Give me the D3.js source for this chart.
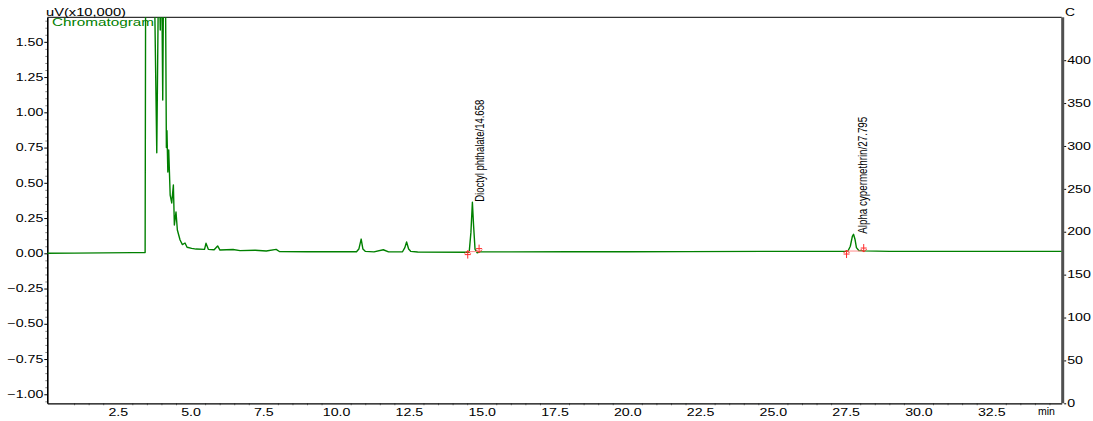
<!DOCTYPE html>
<html>
<head>
<meta charset="utf-8">
<script src="https://cdn.jsdelivr.net/npm/d3@7"></script>
<style>
  body { margin: 0; background: #fff; }
  svg { display: block; }
  text { font-family: "Liberation Sans", Arial, sans-serif; }
</style>
</head>
<body>
<div id="chart"></div>
<script>
// retention time (min) and detector signal (uV x10,000)
const rtMin = [0.08, 1.0, 2.0, 3.0, 3.44, 3.46, 3.74, 3.84, 3.91, 3.96, 4.0, 4.045, 4.08, 4.13,
  4.17, 4.19, 4.22, 4.25, 4.30, 4.354, 4.41, 4.444, 4.50, 4.547, 4.64, 4.72, 4.81, 4.88, 5.04,
  5.19, 5.48, 5.53, 5.61, 5.81, 5.93, 6.01, 6.46, 6.7, 7.22, 7.6, 7.94, 8.05, 9.0, 10.7, 10.78,
  10.86, 10.92, 11.0, 11.3, 11.62, 11.8, 12.28, 12.36, 12.42, 12.49, 12.56, 12.8, 14.52, 14.57,
  14.63, 14.68, 14.72, 14.77, 14.84, 14.95, 16.0, 18.0, 20.0, 22.0, 25.0, 27.53, 27.58, 27.66,
  27.73, 27.77, 27.82, 27.87, 27.95, 28.12, 29.0, 31.0, 34.92];
const signal = [0.000, 0.001, 0.003, 0.005, 0.005, 2.2, 2.2, 0.713, 2.2, 1.584, 2.2, 1.087, 2.2, 2.2,
  0.75, 0.87, 0.576, 0.733, 0.413, 0.357, 0.484, 0.201, 0.293, 0.165, 0.094, 0.062, 0.073, 0.043, 0.035,
  0.030, 0.028, 0.071, 0.028, 0.025, 0.052, 0.023, 0.027, 0.019, 0.022, 0.016, 0.028, 0.013, 0.011, 0.011, 0.03,
  0.101, 0.03, 0.014, 0.010, 0.025, 0.010, 0.011, 0.04, 0.08, 0.03, 0.014, 0.009, 0.007, 0.008,
  0.15, 0.362, 0.2, 0.03, 0.004, 0.010, 0.010, 0.011, 0.011, 0.012, 0.014, 0.015, 0.016, 0.05,
  0.12, 0.135, 0.1, 0.04, 0.02, 0.017, 0.014, 0.014, 0.014];

// integrated peaks
const peakNames = ["Dioctyl phthalate/14.658", "Alpha cypermethrin/27.795"];
const peakTime = [14.658, 27.795];
const peakApex = [0.362, 0.135];
const peakStart = [14.52, 27.53];
const peakEnd = [14.91, 28.12];
const peakBase = [0.012, 0.016];

const signalTicks = [-1.00, -0.75, -0.50, -0.25, 0.00, 0.25, 0.50, 0.75, 1.00, 1.25, 1.50];
const timeTicks = [2.5, 5.0, 7.5, 10.0, 12.5, 15.0, 17.5, 20.0, 22.5, 25.0, 27.5, 30.0, 32.5];
const tempTicks = [0, 50, 100, 150, 200, 250, 300, 350, 400];

const width = 1093, height = 421;
const pLeft = 47.3, pRight = 1061.7, pTop = 17.3, pBottom = 403.3;
const green = "#008000", red = "#ff2a2a";
const sx = 1.42; // labels look stretched sideways

const svg = d3.select("#chart").append("svg")
  .attr("width", width)
  .attr("height", height);

const x = d3.scaleLinear().domain([0.08, 34.92]).range([pLeft, pRight]);
const y = d3.scaleLinear().domain([-1.064, 1.674]).range([pBottom, pTop]);
const yT = d3.scaleLinear().domain([0, 450]).range([pBottom, pTop]);

svg.append("clipPath").attr("id", "plotclip")
  .append("rect")
  .attr("x", pLeft).attr("y", pTop)
  .attr("width", pRight - pLeft).attr("height", pBottom - pTop);

// top border
svg.append("line")
  .attr("x1", pLeft).attr("x2", pRight)
  .attr("y1", pTop).attr("y2", pTop)
  .attr("stroke", "#000").attr("stroke-width", 1);

// minor ticks
svg.append("g")
  .attr("transform", `translate(0,${pBottom})`)
  .call(d3.axisBottom(x).tickValues(d3.range(1, 35, 0.5).filter(d => d % 2.5 != 0)).tickSize(2).tickFormat(""))
  .call(g => g.select(".domain").remove())
  .selectAll("line").attr("stroke", "#888");

svg.append("g")
  .attr("transform", `translate(${pLeft},0)`)
  .call(d3.axisLeft(y).tickValues(d3.range(-1.05, 1.66, 0.05).filter(d => Math.abs(Math.round(d * 100) % 25) != 0)).tickSize(2).tickFormat(""))
  .call(g => g.select(".domain").remove())
  .selectAll("line").attr("stroke", "#888");

// left axis
const gy = svg.append("g")
  .attr("transform", `translate(${pLeft},0)`)
  .call(d3.axisLeft(y).tickValues(signalTicks).tickFormat(d3.format(".2f")).tickSize(3).tickSizeOuter(0));
gy.select(".domain").attr("stroke-width", 1.6);
gy.selectAll("text")
  .attr("x", -4 / sx)
  .attr("transform", `scale(${sx},1)`)
  .attr("font-size", 10)
  .attr("fill", "#000");

// bottom axis
const gx = svg.append("g")
  .attr("transform", `translate(0,${pBottom})`)
  .call(d3.axisBottom(x).tickValues(timeTicks).tickFormat(d3.format(".1f")).tickSize(0).tickSizeOuter(0));
gx.select(".domain").attr("stroke-width", 1.2);
gx.selectAll("text")
  .attr("y", 6)
  .attr("transform", `scale(${sx},1)`)
  .attr("font-size", 10)
  .attr("fill", "#000");

// right temperature axis
svg.append("rect")
  .attr("x", pRight - 0.5).attr("y", pTop)
  .attr("width", 3).attr("height", pBottom - pTop)
  .attr("fill", "#505050");
const gr = svg.append("g")
  .attr("transform", `translate(${pRight + 2.5},0)`)
  .call(d3.axisRight(yT).tickValues(tempTicks).tickSize(2).tickSizeOuter(0));
gr.select(".domain").remove();
gr.selectAll("text")
  .attr("x", 3 / sx)
  .attr("transform", `scale(${sx},1)`)
  .attr("font-size", 10)
  .attr("fill", "#000");

// titles
svg.append("text")
  .attr("x", 46).attr("y", 16)
  .attr("font-size", 10)
  .attr("textLength", 80).attr("lengthAdjust", "spacingAndGlyphs")
  .text("uV(x10,000)");
svg.append("text")
  .attr("x", 52).attr("y", 26)
  .attr("font-size", 10)
  .attr("fill", green)
  .attr("textLength", 102).attr("lengthAdjust", "spacingAndGlyphs")
  .text("Chromatogram");
svg.append("text")
  .attr("x", 1065).attr("y", 16)
  .attr("font-size", 10)
  .attr("textLength", 10).attr("lengthAdjust", "spacingAndGlyphs")
  .text("C");
svg.append("text")
  .attr("x", 1038).attr("y", 415)
  .attr("font-size", 10)
  .attr("textLength", 17).attr("lengthAdjust", "spacingAndGlyphs")
  .text("min");

// chromatogram trace
const trace = rtMin.map((t, i) => [t, signal[i]]);
svg.append("path")
  .datum(trace)
  .attr("clip-path", "url(#plotclip)")
  .attr("fill", "none")
  .attr("stroke", green)
  .attr("stroke-width", 1.4)
  .attr("stroke-linejoin", "round")
  .attr("d", d3.line().x(d => x(d[0])).y(d => y(d[1])));

// peak baselines and start / end marks
const peaks = svg.append("g");
peakNames.forEach((name, i) => {
  const x0 = x(peakStart[i]), x1 = x(peakEnd[i]), yb = y(peakBase[i]);
  peaks.append("line")
    .attr("x1", x0).attr("x2", x1).attr("y1", yb).attr("y2", yb)
    .attr("stroke", "#ff8c8c").attr("stroke-width", 1);
  // start: arrow pointing up from below
  peaks.append("path")
    .attr("d", `M${x0},${yb - 1}V${yb + 7}M${x0 - 3},${yb + 2}L${x0},${yb - 1}L${x0 + 3},${yb + 2}M${x0 - 3},${yb + 3}H${x0 + 3}`)
    .attr("fill", "none").attr("stroke", red).attr("stroke-width", 1);
  // end: arrow pointing down from above
  peaks.append("path")
    .attr("d", `M${x1},${yb + 1}V${yb - 7}M${x1 - 3},${yb - 2}L${x1},${yb + 1}L${x1 + 3},${yb - 2}M${x1 - 3},${yb - 3}H${x1 + 3}`)
    .attr("fill", "none").attr("stroke", red).attr("stroke-width", 1);

  const lens = [102, 117];
  peaks.append("text")
    .attr("transform", `translate(${x(peakTime[i]) + 12.5},${y(peakApex[i]) - 0.5}) rotate(-90) scale(1,1.3)`)
    .attr("font-size", 10)
    .attr("textLength", lens[i]).attr("lengthAdjust", "spacingAndGlyphs")
    .text(name);
});
</script>
</body>
</html>
